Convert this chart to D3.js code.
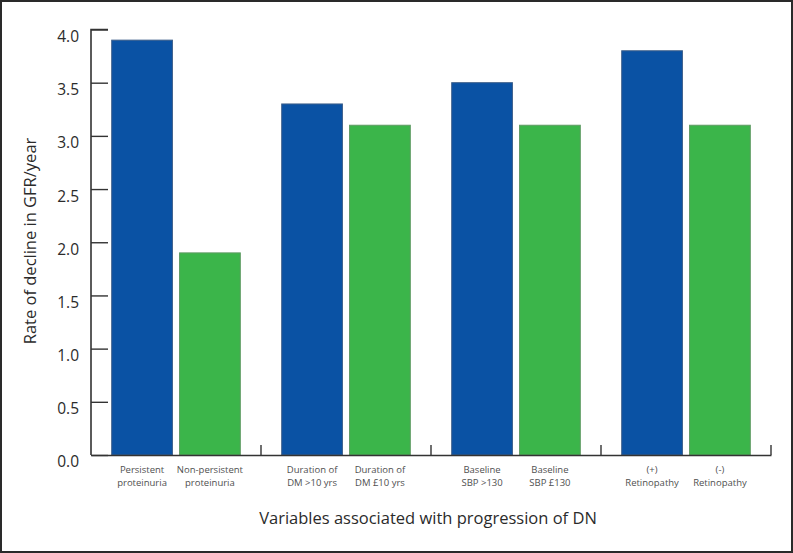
<!DOCTYPE html>
<html><head><meta charset="utf-8">
<script src="https://cdn.jsdelivr.net/npm/d3@7"></script>
<style>body{margin:0;background:#fff}svg{display:block}</style>
</head><body>
<script>
const groups = ["g1","g2","g3","g4"];
const labelsA = [["Persistent","proteinuria"],["Duration of","DM >10 yrs"],["Baseline","SBP >130"],["(+)","Retinopathy"]];
const labelsB = [["Non-persistent","proteinuria"],["Duration of","DM £10 yrs"],["Baseline","SBP £130"],["(-)","Retinopathy"]];
const valuesA = [3.9, 3.3, 3.5, 3.8];
const valuesB = [1.9, 3.1, 3.1, 3.1];
const yTicks = [0,0.5,1,1.5,2,2.5,3,3.5,4];

const W=793,H=553;
const svg=d3.select("body").append("svg").attr("width",W).attr("height",H);
svg.append("rect").attr("x",1).attr("y",1).attr("width",W-2).attr("height",H-2)
  .attr("fill","#fff").attr("stroke","#2a2a2a").attr("stroke-width",2);

const x0=91,x1=771;
const y=d3.scaleLinear().domain([0,4]).range([455,29.5]);
const xg=d3.scaleBand().domain(groups).range([x0,x1]).paddingInner(0).paddingOuter(0);
const xs=d3.scaleBand().domain(["a","b"]).range([0,xg.bandwidth()]).paddingInner(0.105).paddingOuter(0.305);

const font="'Myriad Pro','Open Sans','Liberation Sans',sans-serif";

// y axis
const yAxis=d3.axisRight(y).tickValues(yTicks).tickSize(17).tickFormat(d3.format(".1f"));
const ga=svg.append("g").attr("transform",`translate(${x0},0)`).call(yAxis);
ga.select(".domain").attr("d",`M17,${y(4)}H0V${y(0)}`).attr("stroke","#333").attr("stroke-width",1.6);
ga.selectAll(".tick line").attr("stroke","#333").attr("stroke-width",1.4);
ga.selectAll(".tick text").attr("x",-12).attr("y",6.5).attr("text-anchor","end").attr("dy","0.35em")
  .attr("font-family",font).attr("font-size",15.5).attr("fill","#2b2b2b");

// bars
const g=svg.append("g");
groups.forEach((k,i)=>{
  const gx=xg(k);
  g.append("rect").attr("x",gx+xs("a")).attr("y",y(valuesA[i])).attr("width",xs.bandwidth())
    .attr("height",y(0)-y(valuesA[i])).attr("fill","#0a52a4").attr("stroke","#3d5f8a").attr("stroke-width",1);
  g.append("rect").attr("x",gx+xs("b")).attr("y",y(valuesB[i])).attr("width",xs.bandwidth())
    .attr("height",y(0)-y(valuesB[i])).attr("fill","#3bb54a").attr("stroke","#5f9a63").attr("stroke-width",1);
  [[labelsA[i],xs("a")],[labelsB[i],xs("b")]].forEach(([ls,ox])=>{
    const t=svg.append("text").attr("text-anchor","middle").attr("font-family",font)
      .attr("font-size",9.5).attr("fill","#505050");
    ls.forEach((l,j)=>t.append("tspan").attr("x",gx+ox+xs.bandwidth()/2).attr("y",472.5+j*13).text(l));
  });
});

// x axis
const xAxis=d3.axisBottom(xg).tickValues([]).tickSizeOuter(0);
const gx=svg.append("g").attr("transform",`translate(0,${y(0)})`).call(xAxis);
gx.select(".domain").attr("stroke","#333").attr("stroke-width",1.6);
groups.forEach(k=>{
  svg.append("line").attr("x1",xg(k)+xg.bandwidth()).attr("x2",xg(k)+xg.bandwidth())
    .attr("y1",y(0)).attr("y2",y(0)-10).attr("stroke","#333").attr("stroke-width",1.4);
});

svg.append("text").attr("x",428).attr("y",523.5).attr("text-anchor","middle")
  .attr("font-family",font).attr("font-size",16.5).attr("fill","#2b2b2b")
  .text("Variables associated with progression of DN");
svg.append("text").attr("transform",`translate(35.5,241) rotate(-90)`).attr("text-anchor","middle")
  .attr("font-family",font).attr("font-size",16.5).attr("fill","#2b2b2b")
  .text("Rate of decline in GFR/year");
</script>
</body></html>
